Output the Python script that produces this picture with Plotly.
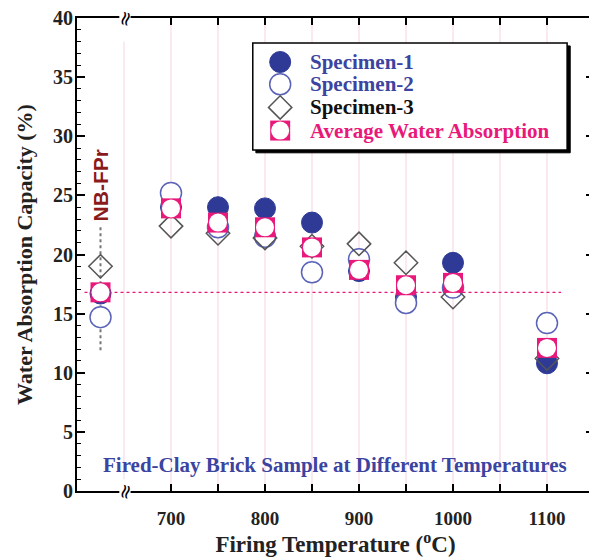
import plotly.graph_objects as go

# ---- data ----
categories = ["NB-FPr", "700", "750", "800", "850", "900", "950", "1000", "1100"]
x_pos = [625, 700, 750, 800, 850, 900, 950, 1000, 1100]
specimen1 = [16.7, 24.0, 24.0, 23.9, 22.7, 18.6, 16.4, 19.3, 10.8]
specimen2 = [14.7, 25.2, 22.3, 21.5, 18.5, 19.6, 15.9, 17.2, 14.2]
specimen3 = [19.0, 22.4, 21.8, 21.4, 20.7, 20.9, 19.3, 16.4, 11.2]
average = [16.8, 23.9, 22.7, 22.3, 20.6, 18.7, 17.4, 17.6, 12.1]
x_tickvals = [700, 750, 800, 850, 900, 950, 1000, 1050, 1100]
x_ticktext = ["700", "", "800", "", "900", "", "1000", "", "1100"]
y_tickvals = [0, 5, 10, 15, 20, 25, 30, 35, 40]
legend_names = ["Specimen-1", "Specimen-2", "Specimen-3", "Average Water Absorption"]

SERIF = "Liberation Serif, Times New Roman, serif"
NAVY = "#2E3A96"
BLUE2 = "#5A63B8"
GRAY = "#555555"
PINK = "#E8197A"
TXTBLUE = "#3B44A0"

fig = go.Figure()

sty1 = dict(symbol="circle", size=21, color=NAVY, line=dict(color=NAVY, width=1))
sty2 = dict(symbol="circle", size=21, color="white", line=dict(color=BLUE2, width=1.5))
sty3 = dict(symbol="diamond", size=18, color="rgba(0,0,0,0)", line=dict(color=GRAY, width=1.5))
sty4a = dict(symbol="square", size=20, color=PINK, line=dict(color=PINK, width=0))
sty4b = dict(symbol="circle", size=18, color="white", line=dict(width=0))

# vertical dotted line at NB-FPr
fig.add_trace(go.Scatter(x=[x_pos[0], x_pos[0]], y=[11.9, 22.3], mode="lines",
                         line=dict(color="#777777", width=2, dash="dot"),
                         showlegend=False, hoverinfo="skip"))
# horizontal reference line at NB-FPr average
fig.add_trace(go.Scatter(x=[608, 1115], y=[average[0], average[0]], mode="lines",
                         line=dict(color=PINK, width=1.2, dash="dot"),
                         showlegend=False, hoverinfo="skip"))

fig.add_trace(go.Scatter(x=x_pos, y=specimen1, mode="markers", marker=sty1, showlegend=False))
fig.add_trace(go.Scatter(x=x_pos, y=specimen2, mode="markers", marker=sty2, showlegend=False))
fig.add_trace(go.Scatter(x=x_pos, y=specimen3, mode="markers", marker=sty3, showlegend=False))
fig.add_trace(go.Scatter(x=x_pos, y=average, mode="markers", marker=sty4a, showlegend=False))
fig.add_trace(go.Scatter(x=x_pos, y=average, mode="markers", marker=sty4b, showlegend=False))

# ---- manual legend on overlay axes (0..1) ----
leg_x = 0.393
leg_rows = [0.907, 0.860, 0.811, 0.762]
for sty, yy in zip([sty1, sty2, sty3, sty4a], leg_rows):
    fig.add_trace(go.Scatter(x=[leg_x], y=[yy], mode="markers", marker=sty,
                             xaxis="x2", yaxis="y2", showlegend=False, hoverinfo="skip"))
fig.add_trace(go.Scatter(x=[leg_x], y=[leg_rows[3]], mode="markers", marker=sty4b,
                         xaxis="x2", yaxis="y2", showlegend=False, hoverinfo="skip"))
leg_colors = [TXTBLUE, TXTBLUE, "#111111", PINK]
annotations = []
for name, col, yy in zip(legend_names, leg_colors, leg_rows):
    annotations.append(dict(x=0.447, y=yy, xref="paper", yref="paper", text=name, showarrow=False,
                            xanchor="left", yanchor="middle",
                            font=dict(family=SERIF, size=21, color=col, weight="bold")))

shapes = []
# gridlines
for xv in x_tickvals:
    shapes.append(dict(type="line", x0=xv, x1=xv, y0=0, y1=1, xref="x", yref="paper",
                       line=dict(color="#F6D3DF", width=1), layer="below"))
shapes.append(dict(type="line", x0=650, x1=650, y0=1, y1=38, xref="x", yref="y",
                   line=dict(color="#F6D3DF", width=1), layer="below"))
# legend shadow and box
shapes.append(dict(type="rect", x0=0.346, x1=0.954, y0=0.715, y1=0.941, xref="paper", yref="paper",
                   fillcolor="black", line=dict(color="black", width=1), layer="below"))
shapes.append(dict(type="rect", x0=0.340, x1=0.948, y0=0.721, y1=0.947, xref="paper", yref="paper",
                   fillcolor="white", line=dict(color="black", width=1.5), layer="below"))
# axis break markers
for yp in [0, 1]:
    shapes.append(dict(type="rect", x0=645, x1=657, y0=yp - 0.006, y1=yp + 0.006,
                       xref="x", yref="paper", fillcolor="white",
                       line=dict(width=0), layer="above"))
    annotations.append(dict(x=651, y=yp, xref="x", yref="paper", text="≈", showarrow=False,
                            textangle=-75, xanchor="center", yanchor="middle",
                            font=dict(family="DejaVu Sans", size=20, color="black")))

annotations.append(dict(x=x_pos[0], y=25.8, xref="x", yref="y", text="NB-FPr", showarrow=False,
                        textangle=-90, font=dict(family="Liberation Sans, Arial", size=21,
                                                 color="#8B1A1A", weight="bold")))
annotations.append(dict(x=874, y=2.2, xref="x", yref="y",
                        text="Fired-Clay Brick Sample at Different Temperatures", showarrow=False,
                        font=dict(family=SERIF, size=21, color=TXTBLUE, weight="bold")))

fig.update_layout(
    width=597, height=560,
    margin=dict(l=69, r=11, t=10, b=77, autoexpand=False),
    paper_bgcolor="white", plot_bgcolor="white",
    showlegend=False,
    xaxis=dict(range=[600, 1150], tickvals=x_tickvals, ticktext=x_ticktext,
               ticks="inside", ticklen=7, tickwidth=1.5, tickcolor="black",
               showline=True, linecolor="black", linewidth=2, mirror="ticks",
               showgrid=False, zeroline=False, automargin=False, ticklabelstandoff=9,
               tickfont=dict(family=SERIF, size=19, color="#222", weight="bold"),
               title=dict(text="Firing Temperature (<sup>o</sup>C)", standoff=8,
                          font=dict(family=SERIF, size=23, color="#222", weight="bold"))),
    yaxis=dict(range=[0, 40], tickvals=y_tickvals,
               ticks="inside", ticklen=8, tickwidth=1.5, tickcolor="black",
               minor=dict(dtick=1, ticks="inside", ticklen=4, tickcolor="black", tickwidth=1),
               showline=True, linecolor="black", linewidth=2, mirror="ticks",
               showgrid=False, zeroline=False, automargin=False, ticklabelstandoff=-2,
               ticklabeloverflow="allow",
               tickfont=dict(family=SERIF, size=20, color="#222", weight="bold"),
               title=dict(text="Water Absorption Capacity (%)", standoff=14,
                          font=dict(family=SERIF, size=22, color="#222", weight="bold"))),
    xaxis2=dict(range=[0, 1], overlaying="x", visible=False),
    yaxis2=dict(range=[0, 1], overlaying="y", visible=False),
    shapes=shapes,
    annotations=annotations,
)

fig.write_html("out.html")
